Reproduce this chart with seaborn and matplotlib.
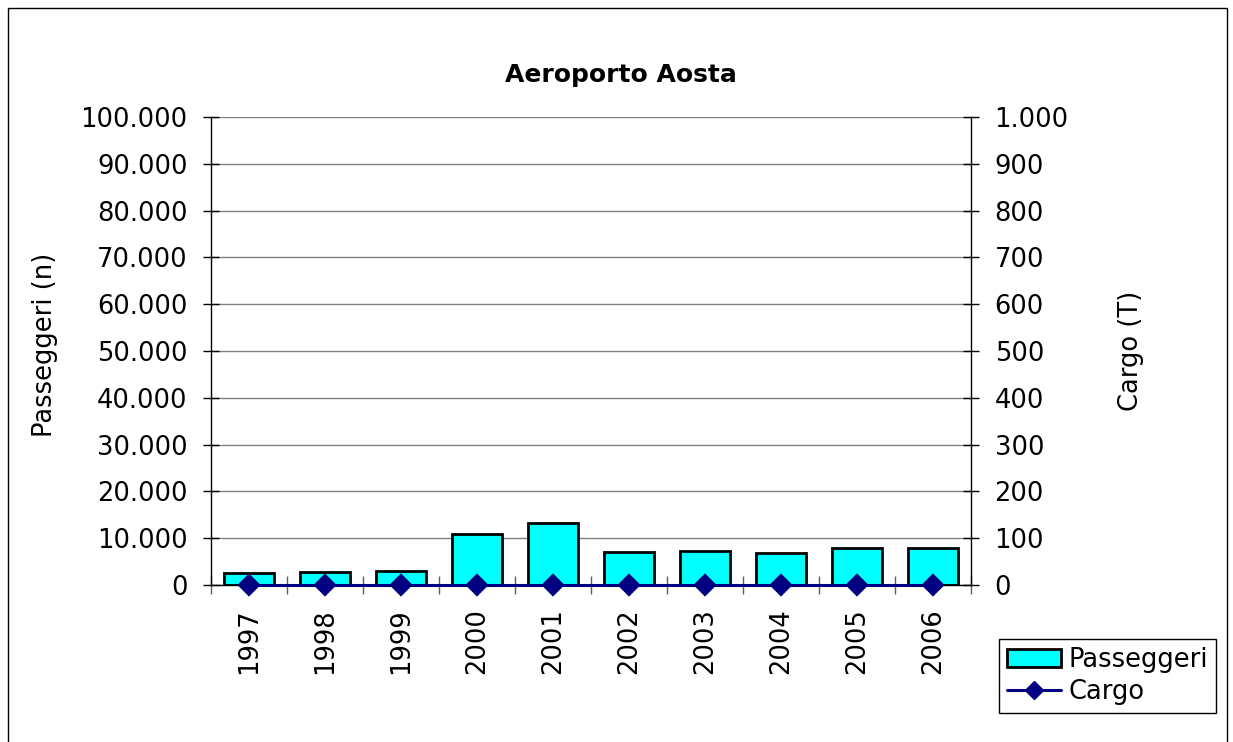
import numpy as np
import pandas as pd
import matplotlib
matplotlib.use("Agg")
import matplotlib.pyplot as plt
from matplotlib.patches import Patch, Rectangle
from matplotlib.lines import Line2D
from matplotlib.ticker import FuncFormatter, FixedLocator
import seaborn as sns

# ---- data ----
anni = ["1997", "1998", "1999", "2000", "2001", "2002", "2003", "2004", "2005", "2006"]
passeggeri = [2550, 2780, 2930, 10900, 13200, 7150, 7360, 6850, 7900, 7900]
cargo = [0, 0, 0, 0, 0, 0, 0, 0, 0, 0]
left_ticks = list(range(0, 100001, 10000))
right_ticks = list(range(0, 1001, 100))

sns.set_theme(style="white")
plt.rcParams["font.family"] = ["DejaVu Sans"]
plt.rcParams["text.color"] = "black"
plt.rcParams["axes.labelcolor"] = "black"
plt.rcParams["xtick.color"] = "black"
plt.rcParams["ytick.color"] = "black"
FS = 18.5

df = pd.DataFrame({"Anno": anni, "Passeggeri": passeggeri, "Cargo": cargo})

W, H = 1233, 742
fig = plt.figure(figsize=(W / 100, H / 100), dpi=100)
fig.patch.set_facecolor("white")
L, R, B, T = 211, 971, 585, 117
ax = fig.add_axes([L / W, 1 - B / H, (R - L) / W, (B - T) / H])
ax2 = ax.twinx()

sns.barplot(data=df, x="Anno", y="Passeggeri", color="#00FFFF", saturation=1,
            edgecolor="black", linewidth=2.0, width=0.67, ax=ax)
sns.pointplot(data=df, x="Anno", y="Cargo", color="#000080", markers="D",
              linestyles="-", errorbar=None, ax=ax2, markersize=10, linewidth=2.2)
for ln in ax2.lines:
    ln.set_clip_on(False)
for c in ax2.collections:
    c.set_clip_on(False)

fmt = FuncFormatter(lambda v, p: f"{v:,.0f}".replace(",", "."))
ax.set_ylim(0, 100000)
ax2.set_ylim(0, 1000)
ax.set_xlim(-0.5, 9.5)
ax.yaxis.set_major_locator(FixedLocator(left_ticks))
ax2.yaxis.set_major_locator(FixedLocator(right_ticks))
ax.yaxis.set_major_formatter(fmt)
ax2.yaxis.set_major_formatter(fmt)

ax.set_axisbelow(True)
ax.grid(axis="y", color="#808080", linewidth=1.0)
ax.grid(axis="x", visible=False)
ax2.grid(False)

ax.set_xticks(range(len(anni)))
ax.set_xticklabels(anni, rotation=90, fontsize=FS, color="black")
ax.set_xticks(np.arange(-0.5, len(anni), 1), minor=True)
ax.tick_params(axis="x", which="major", length=0, pad=16.5)
ax.tick_params(axis="x", which="minor", direction="inout", length=13,
               color="#606060", width=1, bottom=True)
ax.tick_params(axis="y", direction="inout", length=12, width=1, color="black",
               labelcolor="black", labelsize=FS, pad=11, left=True)
ax2.tick_params(axis="y", direction="inout", length=12, width=1, color="black",
                labelcolor="black", labelsize=FS, pad=11, right=True)

for a in (ax, ax2):
    a.set_xlabel("")
    a.set_ylabel("")
    a.spines["top"].set_visible(False)
    for s in ("left", "right", "bottom"):
        a.spines[s].set_color("black")
        a.spines[s].set_linewidth(1.0)
ax.spines["right"].set_visible(False)
ax2.spines["left"].set_visible(False)
ax2.spines["bottom"].set_visible(False)

fig.text(621 / W, 1 - 82 / H, "Aeroporto Aosta", ha="center", va="baseline",
         fontsize=18, fontweight="bold", color="black")
fig.text(45 / W, 1 - 345 / H, "Passeggeri (n)", rotation=90, ha="center",
         va="center", fontsize=FS, color="black")
fig.text(1131 / W, 1 - 351 / H, "Cargo (T)", rotation=90, ha="center",
         va="center", fontsize=FS, color="black")

handles = [Patch(facecolor="#00FFFF", edgecolor="black", linewidth=2.0),
           Line2D([0], [0], color="#000080", marker="D", markersize=9, linewidth=2.2)]
leg = fig.legend(handles, ["Passeggeri", "Cargo"], loc="lower left",
                 bbox_to_anchor=(999 / W, 1 - 713 / H), fontsize=FS,
                 frameon=True, fancybox=False, framealpha=1, edgecolor="black",
                 borderpad=0.3, labelspacing=0.25, handlelength=2.1,
                 handletextpad=0.3, borderaxespad=0)
leg.get_frame().set_linewidth(1.0)
for t in leg.get_texts():
    t.set_color("black")

fig.add_artist(Rectangle((8 / W, -0.05), (1227 - 8) / W, 1 - 8 / H + 0.05,
                         transform=fig.transFigure, fill=False,
                         edgecolor="black", linewidth=1.0))

fig.savefig("out.png", dpi=100)
